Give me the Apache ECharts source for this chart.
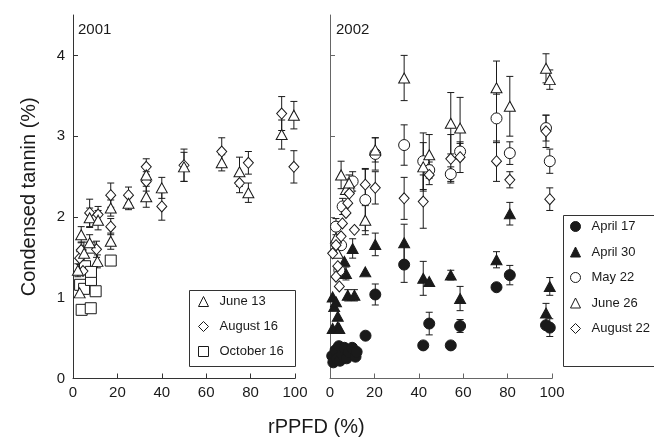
<!DOCTYPE html>
<html>
<head>
    <meta charset="utf-8">
    <title>Condensed tannin</title>
    <script src="https://cdn.jsdelivr.net/npm/echarts@6.0.0/dist/echarts.min.js"></script>
    <style>
        body { margin: 0; background: #fff; }
        #chart1 { width: 654px; height: 441px; }
    </style>
</head>
<body>
<div id="chart1"></div>
<script>
    // [rPPFD, tannin, error]
    var june13 = [[2.2,1.34,0.08],[3,1.06,0],[3.7,1.78,0.1],[5,1.55,0.1],[7.5,1.68,0.1],[7.5,1.99,0.12],[11,1.45,0.08],
        [11.3,1.96,0.12],[17,1.70,0.1],[17,2.11,0.1],[25,2.17,0.08],[33,2.25,0.13],[33,2.52,0.1],[40,2.36,0.13],
        [50,2.62,0.18],[67,2.67,0.1],[75,2.56,0.18],[79,2.30,0.12],[94,3.02,0.18],[99.5,3.26,0.17]];
    var august16 = [[3,1.49,0.08],[3.7,1.59,0.1],[4.5,1.33,0],[7.5,2.05,0.17],[10.6,1.60,0.1],[11.3,2.03,0.1],
        [17,1.88,0.1],[17,2.27,0.15],[25,2.27,0.1],[33,2.44,0.12],[33,2.62,0.1],[40,2.13,0.17],[50,2.64,0.2],
        [67,2.81,0.17],[75,2.42,0.12],[79,2.67,0.14],[94,3.28,0.21],[99.5,2.62,0.2]];
    var october16 = [[3.2,1.16,0],[3.9,0.85,0],[5,1.11,0],[5.4,1.39,0],[7.4,1.62,0],[8,0.87,0],[8.1,1.22,0],
        [8.1,1.32,0],[10.2,1.08,0],[17,1.46,0]];

    var april17 = [[1,0.28,0],[1.5,0.2,0],[2.5,0.35,0],[3,0.24,0],[4,0.4,0],[4.5,0.22,0],[5.5,0.3,0],[6.5,0.38,0],
        [7.5,0.25,0],[8.5,0.33,0],[10,0.38,0],[11.5,0.27,0],[12,0.33,0],[16,0.53,0],[20.4,1.04,0.13],
        [33.4,1.41,0.22],[42,0.41,0],[44.7,0.68,0.14],[54.4,0.41,0],[58.6,0.65,0.08],[75,1.13,0],[81,1.28,0.12],
        [97.3,0.66,0],[99,0.63,0.11]];
    var april30 = [[1.2,1.01,0],[1.9,0.89,0],[2.7,0.95,0],[3.5,0.77,0],[3.5,0.64,0],[1.2,0.62,0],[4.2,0.62,0],
        [6.5,1.45,0],[7.2,1.30,0.08],[8,1.03,0.07],[10.2,1.61,0.12],[11,1.03,0.07],[15.9,1.32,0],[20.4,1.66,0.14],
        [33.4,1.68,0.23],[42,1.24,0.21],[44.7,1.20,0],[54.4,1.28,0.06],[58.6,0.99,0.15],[75,1.47,0.1],
        [81,2.04,0.14],[97.3,0.81,0.12],[99,1.14,0.11]];
    var may22 = [[2.7,1.88,0.1],[4.2,1.34,0],[5,1.65,0],[5.7,2.13,0.1],[8.4,2.32,0],[10.2,2.44,0.12],
        [15.9,2.21,0.38],[20.4,2.78,0.2],[33.4,2.89,0.25],[42,2.69,0.35],[44.7,2.58,0.1],[54.4,2.53,0.09],
        [58.6,2.81,0.1],[75,3.22,0.3],[81,2.79,0.14],[97.3,3.10,0.16],[99,2.69,0.15]];
    var june26 = [[2.7,1.74,0],[3.5,1.55,0],[5,2.52,0.17],[7.2,2.34,0],[8.6,2.42,0.1],[15.9,1.96,0.18],
        [20.4,2.83,0.15],[33.4,3.72,0.28],[42,2.62,0.3],[44.7,2.77,0.25],[54.4,3.16,0.38],[58.6,3.10,0.38],
        [75,3.60,0.33],[81,3.37,0.37],[97.3,3.84,0.18],[99,3.70,0.12]];
    var august22 = [[1.2,1.55,0],[2.7,1.65,0],[2.7,1.26,0],[3.5,1.39,0],[4.2,1.14,0],[5,1.76,0],[5.6,1.92,0],
        [7.2,2.05,0],[8,2.17,0],[8.7,2.29,0],[11,1.84,0],[15.9,2.40,0.2],[20.4,2.36,0.2],[33.4,2.23,0.26],
        [42,2.19,0.33],[44.7,2.52,0.12],[54.4,2.72,0.3],[58.6,2.74,0.19],[75,2.69,0.25],[81,2.46,0.1],
        [97.3,3.06,0.2],[99,2.22,0.14]];

    var xTicks = [0, 20, 40, 60, 80, 100];
    var yTicks = [0, 1, 2, 3, 4];

    var font = 'Liberation Sans';
    var ink = '#1a1a1a';

    function errBars(rows, idx) {
        return {
            type: 'custom',
            xAxisIndex: idx,
            yAxisIndex: idx,
            silent: true,
            z: 1,
            encode: {x: 0, y: 1},
            data: rows.filter(function (r) { return r[2] > 0; }),
            renderItem: function (params, api) {
                var x = api.value(0), y = api.value(1), e = api.value(2);
                var hi = api.coord([x, y + e]), lo = api.coord([x, y - e]);
                var w = 3.5;
                var st = {stroke: ink, lineWidth: 1};
                return {
                    type: 'group', children: [
                        {type: 'line', shape: {x1: hi[0], y1: hi[1], x2: lo[0], y2: lo[1]}, style: st},
                        {type: 'line', shape: {x1: hi[0] - w, y1: hi[1], x2: hi[0] + w, y2: hi[1]}, style: st},
                        {type: 'line', shape: {x1: lo[0] - w, y1: lo[1], x2: lo[0] + w, y2: lo[1]}, style: st}
                    ]
                };
            }
        };
    }

    function dots(name, rows, idx, symbol, size, filled) {
        return {
            name: name,
            type: 'scatter',
            xAxisIndex: idx,
            yAxisIndex: idx,
            z: 3,
            symbol: symbol,
            symbolSize: size,
            data: rows.map(function (r) { return [r[0], r[1]]; }),
            itemStyle: filled ? {color: ink, borderColor: ink, borderWidth: 1, opacity: 1}
                : {color: '#fff', borderColor: ink, borderWidth: 1, opacity: 1}
        };
    }

    function xAx(idx, lineColor) {
        return {
            type: 'value', gridIndex: idx, min: 0, max: 100, interval: 20,
            axisLine: {lineStyle: {color: lineColor, width: 1}},
            axisTick: {inside: true, length: 5, lineStyle: {color: lineColor}},
            axisLabel: {fontFamily: font, fontSize: 15, color: ink, margin: 7, customValues: xTicks},
            splitLine: {show: false}
        };
    }

    function yAx(idx, lineColor, labels) {
        return {
            type: 'value', gridIndex: idx, min: 0, max: 4.5,
            axisLine: {show: true, lineStyle: {color: lineColor, width: 1}},
            axisTick: {show: true, inside: true, length: 5, lineStyle: {color: lineColor}, customValues: yTicks},
            axisLabel: {show: labels, fontFamily: font, fontSize: 15, color: ink, margin: 8, customValues: yTicks},
            splitLine: {show: false}
        };
    }

    var myChart1 = echarts.init(document.getElementById('chart1'));
    var y0 = yAx(0, '#333', true);
    y0.name = 'Condensed tannin (%)';
    y0.nameLocation = 'middle';
    y0.nameGap = 34;
    y0.nameTextStyle = {fontFamily: font, fontSize: 20, color: ink};

    var legendIcon = {borderWidth: 1, borderColor: ink};

    myChart1.setOption({
        animation: false,
        backgroundColor: '#fff',
        title: [
            {text: '2001', left: 78, top: 22, padding: 0, textStyle: {fontFamily: font, fontSize: 15, fontWeight: 'normal', color: ink}},
            {text: '2002', left: 336, top: 22, padding: 0, textStyle: {fontFamily: font, fontSize: 15, fontWeight: 'normal', color: ink}},
            {text: 'rPPFD (%)', left: 268, top: 417, padding: 0, textStyle: {fontFamily: font, fontSize: 20, fontWeight: 'normal', color: ink}}
        ],
        grid: [
            {left: 73, top: 15, width: 222, height: 363.5},
            {left: 330, top: 15, width: 222, height: 363.5}
        ],
        xAxis: [xAx(0, '#333'), xAx(1, '#666')],
        yAxis: [y0, yAx(1, '#666', false)],
        legend: [
            {
                orient: 'vertical', left: 198, top: 295, padding: 0, itemGap: 12,
                itemWidth: 10, itemHeight: 10, selectedMode: false, itemStyle: legendIcon,
                textStyle: {fontFamily: font, fontSize: 13, color: ink, padding: [0, 0, 0, 6]},
                data: ['June 13', 'August 16', 'October 16']
            },
            {
                orient: 'vertical', left: 570, top: 220, padding: 0, itemGap: 12.5,
                itemWidth: 10, itemHeight: 10, selectedMode: false, itemStyle: legendIcon,
                textStyle: {fontFamily: font, fontSize: 13, color: ink, padding: [0, 0, 0, 6]},
                data: ['April 17', 'April 30', 'May 22', 'June 26', 'August 22']
            }
        ],
        graphic: [
            {type: 'rect', left: 187, top: 288, shape: {width: 106, height: 76}, style: {fill: null, stroke: '#333', lineWidth: 1}},
            {type: 'rect', left: 561, top: 213, shape: {width: 100, height: 151}, style: {fill: null, stroke: '#333', lineWidth: 1}}
        ],
        series: [
            errBars(june13, 0), errBars(august16, 0),
            dots('October 16', october16, 0, 'rect', 11, false),
            dots('August 16', august16, 0, 'diamond', [10, 11], false),
            dots('June 13', june13, 0, 'triangle', [11, 10], false),
            errBars(april17, 1), errBars(april30, 1), errBars(may22, 1), errBars(june26, 1), errBars(august22, 1),
            dots('April 17', april17, 1, 'circle', 11, true),
            dots('April 30', april30, 1, 'triangle', [11, 10], true),
            dots('May 22', may22, 1, 'circle', 11, false),
            dots('June 26', june26, 1, 'triangle', [11, 10], false),
            dots('August 22', august22, 1, 'diamond', [10, 11], false)
        ]
    });
</script>
</body>
</html>
